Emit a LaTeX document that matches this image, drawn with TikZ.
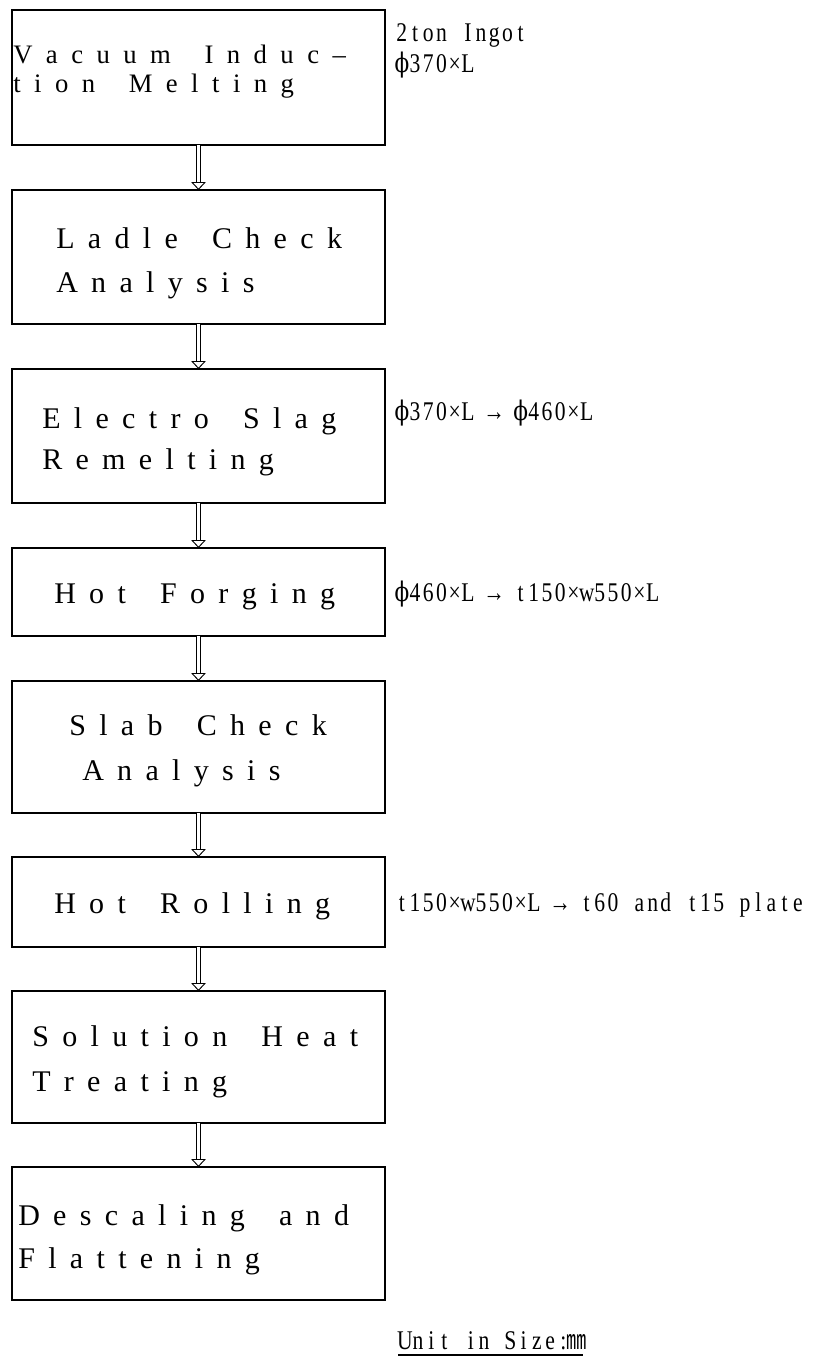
\documentclass[tikz,border=0pt]{standalone}
\usepackage{fontspec}
\setmainfont{Liberation Serif}
\newfontfamily\lblfont[FakeStretch=0.8]{Liberation Serif}
\newfontfamily\phifont[FakeStretch=0.8]{DejaVu Serif}
\newfontfamily\cjkfont[FakeStretch=0.75]{Noto Sans CJK KR}
\usetikzlibrary{arrows.meta}
\ExplSyntaxOn
\NewDocumentCommand\tracked{mm}{\str_map_inline:nn{#2}{##1\hspace{#1}}}
\NewDocumentCommand\pitched{mm}{\str_map_inline:nn{#2}{\makebox[#1][c]{\str_case:nnF{##1}{{ϕ}{{\phifont ϕ}}{㎜}{{\cjkfont ㎜}}}{##1}}}}
\ExplSyntaxOff
\tikzset{
  box/.style={draw, line width=1.3pt, rectangle, inner sep=0pt, outer sep=0pt, minimum width=279.75pt},
  btxt/.style={inner sep=0pt, anchor=base west, font=\fontsize{22.5}{26}\selectfont},
  bsmall/.style={inner sep=0pt, anchor=base west, font=\fontsize{20}{24}\selectfont},
  lbl/.style={inner sep=0pt, anchor=base west, font=\lblfont\fontsize{20.25}{24}\selectfont},
  flow/.style={double=white, double distance=2.6pt, line width=0.7pt, -{Triangle[open, width=11pt, length=6pt]}}
}
\newcommand\Tk[1]{\tracked{10pt}{#1}}
\newcommand\Ts[1]{\tracked{10.1pt}{#1}}
\newcommand\Lb[1]{\pitched{9.9pt}{#1}}
\begin{document}
\begin{tikzpicture}[x=0.75pt,y=-0.75pt]
\useasboundingbox[fill=white] (0,0) rectangle (815,1363);
% boxes
\node[box, minimum height=101.25pt] (b1) at (198.5,77.5) {};
\node[box, minimum height=100.5pt] (b2) at (198.5,257) {};
\node[box, minimum height=100.5pt] (b3) at (198.5,436) {};
\node[box, minimum height=66pt] (b4) at (198.5,592) {};
\node[box, minimum height=99pt] (b5) at (198.5,747) {};
\node[box, minimum height=67.5pt] (b6) at (198.5,902) {};
\node[box, minimum height=99pt] (b7) at (198.5,1057) {};
\node[box, minimum height=99.75pt] (b8) at (198.5,1233.5) {};
% box texts
\node[bsmall] (t1a) at (13,64) {\Ts{Vacuum Induc–}};
\node[bsmall] (t1b) at (13,93) {\Ts{tion Melting}};
\node[btxt] (t2a) at (56,248) {\Tk{Ladle Check}};
\node[btxt] (t2b) at (56,292) {\Tk{Analysis}};
\node[btxt] (t3a) at (42,428) {\Tk{Electro Slag}};
\node[btxt] (t3b) at (42,469) {\Tk{Remelting}};
\node[btxt] (t4) at (54,603) {\Tk{Hot Forging}};
\node[btxt] (t5a) at (69,735) {\Tk{Slab Check}};
\node[btxt] (t5b) at (82,780) {\Tk{Analysis}};
\node[btxt] (t6) at (54,913) {\Tk{Hot Rolling}};
\node[btxt] (t7a) at (32,1046) {\Tk{Solution Heat}};
\node[btxt] (t7b) at (32,1091) {\Tk{Treating}};
\node[btxt] (t8a) at (18,1225) {\Tk{Descaling and}};
\node[btxt] (t8b) at (18,1268) {\Tk{Flattening}};
% side labels
\node[lbl] (l1a) at (395,42) {\Lb{2ton Ingot}};
\node[lbl] (l1b) at (395,73) {\Lb{ϕ370×L}};
\node[lbl] (l3) at (395,420) {\Lb{ϕ370×L → ϕ460×L}};
\node[lbl] (l4) at (395,601) {\Lb{ϕ460×L → t150×w550×L}};
\node[lbl] (l6) at (395,911) {\Lb{t150×w550×L → t60 and t15 plate}};
\node[lbl] (unit) at (398,1349) {\Lb{Unit in Size:㎜}};
\draw[line width=0.8pt] ([yshift=-4.5pt]unit.base west) -- ([yshift=-4.5pt]unit.base east);
% arrows
\draw[flow] (b1.south) -- (b2.north);
\draw[flow] (b2.south) -- (b3.north);
\draw[flow] (b3.south) -- (b4.north);
\draw[flow] (b4.south) -- (b5.north);
\draw[flow] (b5.south) -- (b6.north);
\draw[flow] (b6.south) -- (b7.north);
\draw[flow] (b7.south) -- (b8.north);
\end{tikzpicture}
\end{document}
